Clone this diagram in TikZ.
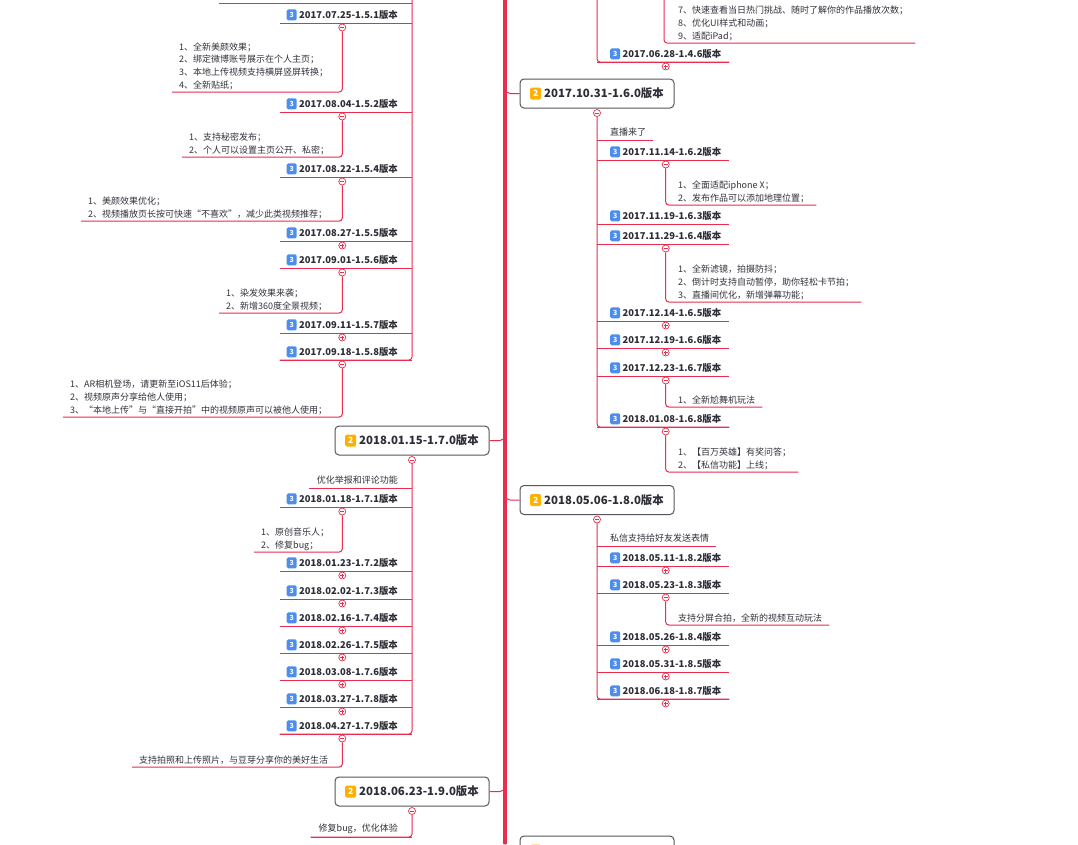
\documentclass[tikz,border=0pt]{standalone}
\usepackage{fontspec}
\setmainfont{Noto Sans CJK SC}
\usetikzlibrary{calc}
\definecolor{brc}{RGB}{234,45,78}
\definecolor{bluec}{RGB}{77,141,238}
\definecolor{orangec}{RGB}{255,176,0}
\definecolor{boxc}{RGB}{85,85,95}
\definecolor{txtc}{RGB}{45,45,55}
\definecolor{notec}{RGB}{50,50,60}
\tikzset{
  br/.style={draw=brc,line width=1pt},
  mainline/.style={draw=brc,line width=4pt},
  lthree/.style={inner sep=0pt,minimum height=16pt,font=\fontsize{9.4}{12}\selectfont\bfseries,text=txtc},
  plaintx/.style={inner sep=0pt,minimum height=16pt,font=\fontsize{9}{12}\selectfont,text=notec},
  notetx/.style={inner xsep=7pt,inner ysep=0pt,align=left,font=\fontsize{9}{12.7}\selectfont,text=notec},
  ltwobox/.style={draw=boxc,line width=1pt,rounded corners=4pt,fill=white,minimum width=154pt,minimum height=29pt,inner sep=0pt,font=\fontsize{11.4}{14}\selectfont\bfseries,text=txtc},
  bdgthree/.style={rectangle,anchor=center,draw=none,fill=bluec,text=white,rounded corners=1.5pt,minimum width=10pt,minimum height=11pt,inner sep=0pt,line width=0pt,font=\fontsize{7}{7}\selectfont\bfseries},
  bdgtwo/.style={rectangle,anchor=center,draw=none,fill=orangec,text=white,rounded corners=1.5pt,minimum width=11pt,minimum height=12pt,inner sep=0pt,line width=0pt,font=\fontsize{8.5}{8.5}\selectfont\bfseries},
  togm/.style={circle,draw=brc,fill=white,line width=0.7pt,minimum size=7pt,inner sep=0pt,
    path picture={\draw[brc,line width=0.7pt] ([xshift=-2pt]path picture bounding box.center) -- ([xshift=2pt]path picture bounding box.center);}},
  togp/.style={circle,draw=brc,fill=white,line width=0.7pt,minimum size=7pt,inner sep=0pt,
    path picture={\draw[brc,line width=0.7pt] ([xshift=-2pt]path picture bounding box.center) -- ([xshift=2pt]path picture bounding box.center);
      \draw[brc,line width=0.7pt] ([yshift=-2pt]path picture bounding box.center) -- ([yshift=2pt]path picture bounding box.center);}},
}
\newcommand\bthree{\tikz[baseline=-3.4pt]\node[bdgthree]{3};}
\newcommand\btwo{\tikz[baseline=-4.3pt]\node[bdgtwo]{2};}
\newcommand\bblank{\tikz[baseline=-4.3pt]\node[bdgtwo]{};}
\newcommand\ns{\rule[-3.5pt]{0pt}{12pt}}
\newcommand\Lver[3]{\node[lthree,anchor=south east] (#1) at (412,#2) {\hspace*{7pt}\bthree\hspace{2.5pt}#3\hspace*{14pt}};\draw[br] (#1.south west) -- (#1.south east);}
\newcommand\Rver[3]{\node[lthree,anchor=south west] (#1) at (597,#2) {\hspace*{13pt}\bthree\hspace{2.5pt}#3\hspace*{8pt}};\draw[br] (#1.south west) -- (#1.south east);}
\newcommand\Lplain[3]{\node[plaintx,anchor=south east] (#1) at (412,#2) {\hspace*{8pt}#3\hspace*{14pt}};\draw[br] (#1.south west) -- (#1.south east);}
\newcommand\Rplain[3]{\node[plaintx,anchor=south west] (#1) at (597,#2) {\hspace*{13pt}#3\hspace*{7pt}};\draw[br] (#1.south west) -- (#1.south east);}
\newcommand\LTog[3]{\node[#1] (#2) at ($($(#3.south west)!0.5!(#3.south east)$)+(-3.5,4.5)$) {};}
\newcommand\RTog[3]{\node[#1] (#2) at ($($(#3.south west)!0.5!(#3.south east)$)+(2.5,4.5)$) {};}
\newcommand\BTog[3]{\node[#1] (#2) at ($(#3.south)+(0,4.5)$) {};}
\newcommand\Lnote[5]{\node[notetx,anchor=south west] (#1) at (#3,#4) {#5};\draw[br,rounded corners=3pt] (#2.south) |- (#1.south west);}
\newcommand\Rnote[4]{\node[notetx,anchor=south west] (#1) at (671,#3) {#4};\draw[br,rounded corners=3pt] (#2.south) |- (#1.south east);}
\begin{document}
\begin{tikzpicture}[x=1pt,y=-1pt]
\useasboundingbox (0,0) rectangle (1078,844);
\fill[white] (0,0) rectangle (1078,844);
% central spine
\coordinate (spT) at (505,0);
\coordinate (spB) at (505,844);
\draw[mainline] (spT) -- (spB);
% ---------------- left column, top group
\coordinate (topL) at (412,0);
\node[inner sep=0pt,minimum width=193pt,minimum height=0pt,anchor=south east] (T0) at (412,3) {};
\draw[br] (T0.south west) -- (T0.south east);
\Lver{A1}{23}{2017.07.25-1.5.1版本}
\Lver{A2}{112}{2017.08.04-1.5.2版本}
\Lver{A3}{177}{2017.08.22-1.5.4版本}
\Lver{A4}{241}{2017.08.27-1.5.5版本}
\Lver{A5}{268}{2017.09.01-1.5.6版本}
\Lver{A6}{333}{2017.09.11-1.5.7版本}
\Lver{A7}{360}{2017.09.18-1.5.8版本}
\draw[br,rounded corners=3pt] (topL) |- (A7.south west);
\LTog{togm}{A1t}{A1}
\LTog{togm}{A2t}{A2}
\LTog{togm}{A3t}{A3}
\LTog{togp}{A4t}{A4}
\LTog{togm}{A5t}{A5}
\LTog{togp}{A6t}{A6}
\LTog{togm}{A7t}{A7}
\Lnote{A1n}{A1t}{172}{92}{\ns 1、全新美颜效果；\\\ns 2、绑定微博账号展示在个人主页；\\\ns 3、本地上传视频支持横屏竖屏转换；\\\ns 4、全新贴纸；}
\Lnote{A2n}{A2t}{182}{157}{\ns 1、支持秘密发布；\\\ns 2、个人可以设置主页公开、私密；}
\Lnote{A3n}{A3t}{81}{221}{\ns 1、美颜效果优化；\\\ns 2、视频播放页长按可快速“不喜欢”，减少此类视频推荐；}
\Lnote{A5n}{A5t}{219}{313}{\ns 1、染发效果来袭；\\\ns 2、新增360度全景视频；}
\Lnote{A7n}{A7t}{63}{417}{\ns 1、AR相机登场，请更新至iOS11后体验；\\\ns 2、视频原声分享给他人使用；\\\ns 3、“本地上传”与“直接开拍”中的视频原声可以被他人使用；}
% ---------------- left box 1.7.0
\node[ltwobox] (B) at (412,440.5) {\btwo\hspace{3pt}2018.01.15-1.7.0版本};
\draw[br,rounded corners=5pt] ($(spT |- B.east)+(0,-9)$) |- (B.east);
\BTog{togm}{Bt}{B}
\Lplain{B0}{488}{优化举报和评论功能}
\Lver{B1}{507}{2018.01.18-1.7.1版本}
\Lver{B2}{571}{2018.01.23-1.7.2版本}
\Lver{B3}{599}{2018.02.02-1.7.3版本}
\Lver{B4}{626}{2018.02.16-1.7.4版本}
\Lver{B5}{653}{2018.02.26-1.7.5版本}
\Lver{B6}{680}{2018.03.08-1.7.6版本}
\Lver{B7}{707}{2018.03.27-1.7.8版本}
\Lver{B8}{734}{2018.04.27-1.7.9版本}
\draw[br,rounded corners=3pt] (Bt.south) |- (B8.south west);
\LTog{togm}{B1t}{B1}
\LTog{togp}{B2t}{B2}
\LTog{togp}{B3t}{B3}
\LTog{togp}{B4t}{B4}
\LTog{togp}{B5t}{B5}
\LTog{togp}{B6t}{B6}
\LTog{togp}{B7t}{B7}
\LTog{togm}{B8t}{B8}
\Lnote{B1n}{B1t}{254}{552}{\ns 1、原创音乐人；\\\ns 2、修复bug；}
\Lnote{B8n}{B8t}{132}{767}{\ns 支持拍照和上传照片，与豆芽分享你的美好生活}
% ---------------- left box 1.9.0
\node[ltwobox] (C) at (412,791.5) {\btwo\hspace{3pt}2018.06.23-1.9.0版本};
\draw[br,rounded corners=5pt] ($(spT |- C.east)+(0,-9)$) |- (C.east);
\BTog{togm}{Ct}{C}
\Lplain{C0}{837}{修复bug，优化体验}
\draw[br,rounded corners=3pt] (Ct.south) |- (C0.south west);
% ---------------- right column, top group
\coordinate (topR) at (597,0);
\coordinate (topRN) at (664,0);
\Rnote{N0}{topRN}{43}{\ns 7、快速查看当日热门挑战、随时了解你的作品播放次数；\\\ns 8、优化UI样式和动画；\\\ns 9、适配iPad；}
\Rver{D1}{62}{2017.06.28-1.4.6版本}
\draw[br,rounded corners=3pt] (topR) |- (D1.south east);
\RTog{togp}{D1t}{D1}
% ---------------- right box 1.6.0
\node[ltwobox] (E) at (597,93.5) {\btwo\hspace{3pt}2017.10.31-1.6.0版本};
\draw[br,rounded corners=5pt] ($(spT |- E.west)+(0,-9)$) |- (E.west);
\BTog{togm}{Et}{E}
\Rplain{E0}{140}{直播来了}
\Rver{E1}{160}{2017.11.14-1.6.2版本}
\Rver{E2}{224}{2017.11.19-1.6.3版本}
\Rver{E3}{244}{2017.11.29-1.6.4版本}
\Rver{E4}{321}{2017.12.14-1.6.5版本}
\Rver{E5}{348}{2017.12.19-1.6.6版本}
\Rver{E6}{376}{2017.12.23-1.6.7版本}
\Rver{E7}{427}{2018.01.08-1.6.8版本}
\draw[br,rounded corners=3pt] (Et.south) |- (E7.south east);
\RTog{togm}{E1t}{E1}
\RTog{togm}{E3t}{E3}
\RTog{togp}{E4t}{E4}
\RTog{togp}{E5t}{E5}
\RTog{togm}{E6t}{E6}
\RTog{togm}{E7t}{E7}
\Rnote{E1n}{E1t}{205}{\ns 1、全面适配iphone X；\\\ns 2、发布作品可以添加地理位置；}
\Rnote{E3n}{E3t}{302}{\ns 1、全新滤镜，拍摄防抖；\\\ns 2、倒计时支持自动暂停，助你轻松卡节拍；\\\ns 3、直播间优化，新增弹幕功能；}
\Rnote{E6n}{E6t}{407}{\ns 1、全新尬舞机玩法}
\Rnote{E7n}{E7t}{472}{\ns 1、【百万英雄】有奖问答；\\\ns 2、【私信功能】上线；}
% ---------------- right box 1.8.0
\node[ltwobox] (F) at (597,500) {\btwo\hspace{3pt}2018.05.06-1.8.0版本};
\draw[br,rounded corners=5pt] ($(spT |- F.west)+(0,-9)$) |- (F.west);
\BTog{togm}{Ft}{F}
\Rplain{F0}{546}{私信支持给好友发送表情}
\Rver{F1}{566}{2018.05.11-1.8.2版本}
\Rver{F2}{593}{2018.05.23-1.8.3版本}
\Rver{F3}{645}{2018.05.26-1.8.4版本}
\Rver{F4}{672}{2018.05.31-1.8.5版本}
\Rver{F5}{699}{2018.06.18-1.8.7版本}
\draw[br,rounded corners=3pt] (Ft.south) |- (F5.south east);
\RTog{togp}{F1t}{F1}
\RTog{togm}{F2t}{F2}
\RTog{togp}{F3t}{F3}
\RTog{togp}{F4t}{F4}
\RTog{togp}{F5t}{F5}
\Rnote{F2n}{F2t}{625}{\ns 支持分屏合拍，全新的视频互动玩法}
% ---------------- right box at the bottom (cut off)
\node[ltwobox,anchor=north] (G) at (597,835.5) {\bblank\hspace{3pt}\phantom{2018.00.00-1.0.0版本}};
\draw[br,rounded corners=5pt] ($(spT |- G.west)+(0,-9)$) |- (G.west);
\end{tikzpicture}
\end{document}
